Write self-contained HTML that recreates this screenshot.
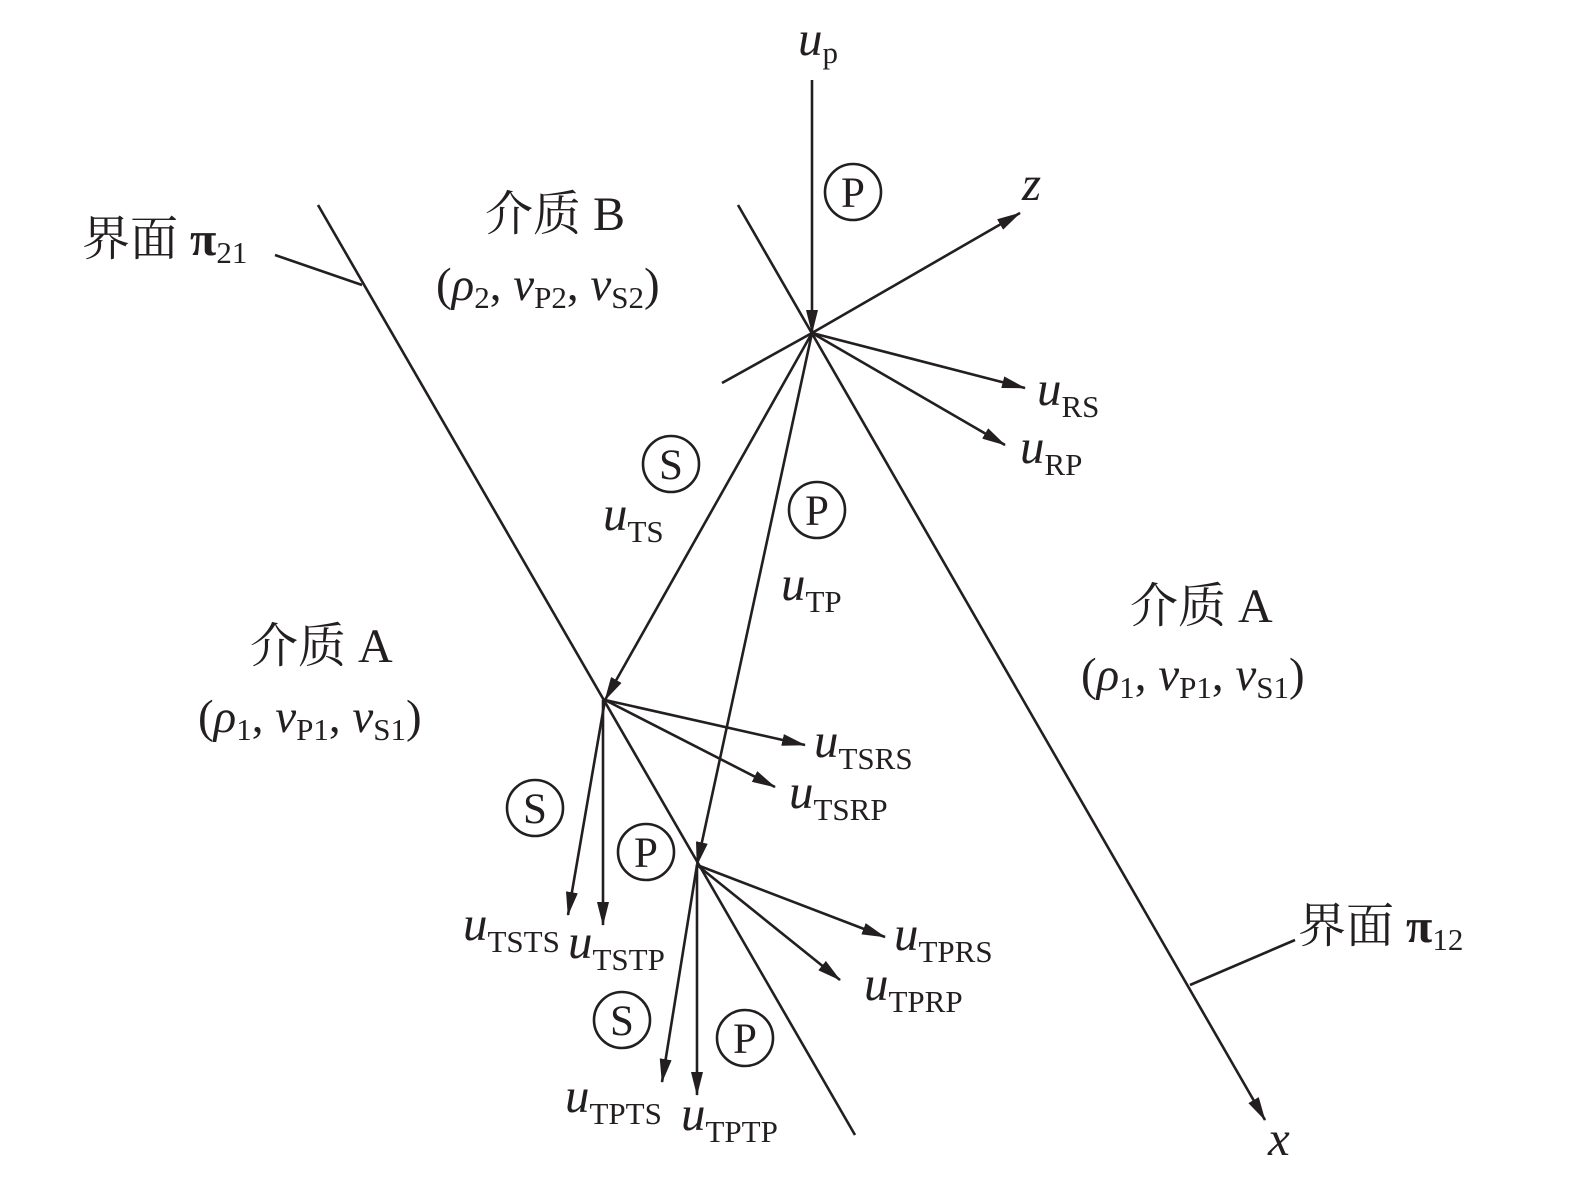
<!DOCTYPE html>
<html><head><meta charset="utf-8"><style>
html,body{margin:0;padding:0;background:#fff;}
svg{display:block;}
text{font-family:"Liberation Serif","Noto Serif CJK SC",serif;fill:#231f20;}
.u{font-style:italic;font-size:49px;}
.s{font-size:31px;font-style:normal;}
.c{font-size:43px;}
.cn{font-family:"Liberation Serif","Noto Serif CJK SC","Noto Sans CJK SC",serif;font-size:48px;}
.t{font-size:47px;}
</style></head><body>
<svg width="1575" height="1183" viewBox="0 0 1575 1183" xmlns="http://www.w3.org/2000/svg">
<defs>
<marker id="b" viewBox="0 0 24 12" refX="23" refY="6" markerWidth="24" markerHeight="12" orient="auto" markerUnits="userSpaceOnUse"><path d="M0,0 L24,6 L0,12 Z" fill="#231f20"/></marker></defs>
<g stroke="#231f20" stroke-width="2.6" fill="none">
<line x1="318" y1="205" x2="855" y2="1135"/>
<line x1="275" y1="255" x2="362" y2="285"/>
<line x1="738" y1="205" x2="1265" y2="1120" marker-end="url(#b)"/>
<line x1="1190" y1="985" x2="1295" y2="940"/>
<line x1="812" y1="80" x2="812" y2="333" marker-end="url(#b)"/>
<line x1="722" y1="383" x2="812" y2="333"/>
<line x1="812" y1="333" x2="1020" y2="213" marker-end="url(#b)"/>
<line x1="812" y1="333" x2="1025" y2="388" marker-end="url(#b)"/>
<line x1="812" y1="333" x2="1005" y2="445" marker-end="url(#b)"/>
<line x1="812" y1="333" x2="605" y2="700" marker-end="url(#b)"/>
<line x1="812" y1="333" x2="697" y2="865" marker-end="url(#b)"/>
<line x1="605" y1="700" x2="805" y2="745" marker-end="url(#b)"/>
<line x1="605" y1="700" x2="775" y2="787" marker-end="url(#b)"/>
<line x1="605" y1="700" x2="568" y2="915" marker-end="url(#b)"/>
<line x1="603" y1="700" x2="603" y2="925" marker-end="url(#b)"/>
<line x1="697" y1="865" x2="885" y2="937" marker-end="url(#b)"/>
<line x1="697" y1="865" x2="840" y2="980" marker-end="url(#b)"/>
<line x1="697" y1="865" x2="662" y2="1082" marker-end="url(#b)"/>
<line x1="697" y1="865" x2="697" y2="1095" marker-end="url(#b)"/>
<circle cx="853" cy="192" r="28"/><circle cx="671" cy="464" r="28"/><circle cx="817" cy="510" r="28"/>
<circle cx="535" cy="808" r="28"/><circle cx="646" cy="852" r="28"/><circle cx="622" cy="1020" r="28"/><circle cx="745" cy="1038" r="28"/>
</g>
<g class="c" text-anchor="middle">
<text x="853" y="207">P</text><text x="671" y="479">S</text><text x="817" y="525">P</text>
<text x="535" y="823">S</text><text x="646" y="867">P</text><text x="622" y="1035">S</text><text x="745" y="1053">P</text>
</g>
<text class="cn" x="82" y="255">界面 <tspan font-weight="bold">π</tspan><tspan class="s" dy="8">21</tspan></text>
<text class="cn" x="1298" y="942">界面 <tspan font-weight="bold">π</tspan><tspan class="s" dy="8">12</tspan></text>
<text class="cn" x="485" y="230">介质 B</text>
<text class="cn" x="1130" y="622">介质 A</text>
<text class="cn" x="250" y="662">介质 A</text>
<text class="t" x="436" y="300">(<tspan font-style="italic">ρ</tspan><tspan class="s" dy="8">2</tspan><tspan dy="-8">, </tspan><tspan font-style="italic">v</tspan><tspan class="s" dy="8">P2</tspan><tspan dy="-8">, </tspan><tspan font-style="italic">v</tspan><tspan class="s" dy="8">S2</tspan><tspan dy="-8">)</tspan></text>
<text class="t" x="1081" y="690">(<tspan font-style="italic">ρ</tspan><tspan class="s" dy="8">1</tspan><tspan dy="-8">, </tspan><tspan font-style="italic">v</tspan><tspan class="s" dy="8">P1</tspan><tspan dy="-8">, </tspan><tspan font-style="italic">v</tspan><tspan class="s" dy="8">S1</tspan><tspan dy="-8">)</tspan></text>
<text class="t" x="198" y="732">(<tspan font-style="italic">ρ</tspan><tspan class="s" dy="8">1</tspan><tspan dy="-8">, </tspan><tspan font-style="italic">v</tspan><tspan class="s" dy="8">P1</tspan><tspan dy="-8">, </tspan><tspan font-style="italic">v</tspan><tspan class="s" dy="8">S1</tspan><tspan dy="-8">)</tspan></text>
<text class="u" x="798" y="55">u<tspan class="s" dy="8">p</tspan></text>
<text class="u" x="1022" y="200">z</text>
<text class="u" x="1268" y="1155">x</text>
<text class="u" x="1037" y="405">u<tspan class="s" dy="12">RS</tspan></text>
<text class="u" x="1020" y="463">u<tspan class="s" dy="12">RP</tspan></text>
<text class="u" x="603" y="530">u<tspan class="s" dy="12">TS</tspan></text>
<text class="u" x="781" y="600">u<tspan class="s" dy="12">TP</tspan></text>
<text class="u" x="814" y="757">u<tspan class="s" dy="12">TSRS</tspan></text>
<text class="u" x="789" y="808">u<tspan class="s" dy="12">TSRP</tspan></text>
<text class="u" x="463" y="940">u<tspan class="s" dy="12">TSTS</tspan></text>
<text class="u" x="568" y="958">u<tspan class="s" dy="12">TSTP</tspan></text>
<text class="u" x="894" y="950">u<tspan class="s" dy="12">TPRS</tspan></text>
<text class="u" x="864" y="1000">u<tspan class="s" dy="12">TPRP</tspan></text>
<text class="u" x="565" y="1112">u<tspan class="s" dy="12">TPTS</tspan></text>
<text class="u" x="681" y="1130">u<tspan class="s" dy="12">TPTP</tspan></text>
</svg>
</body></html>
